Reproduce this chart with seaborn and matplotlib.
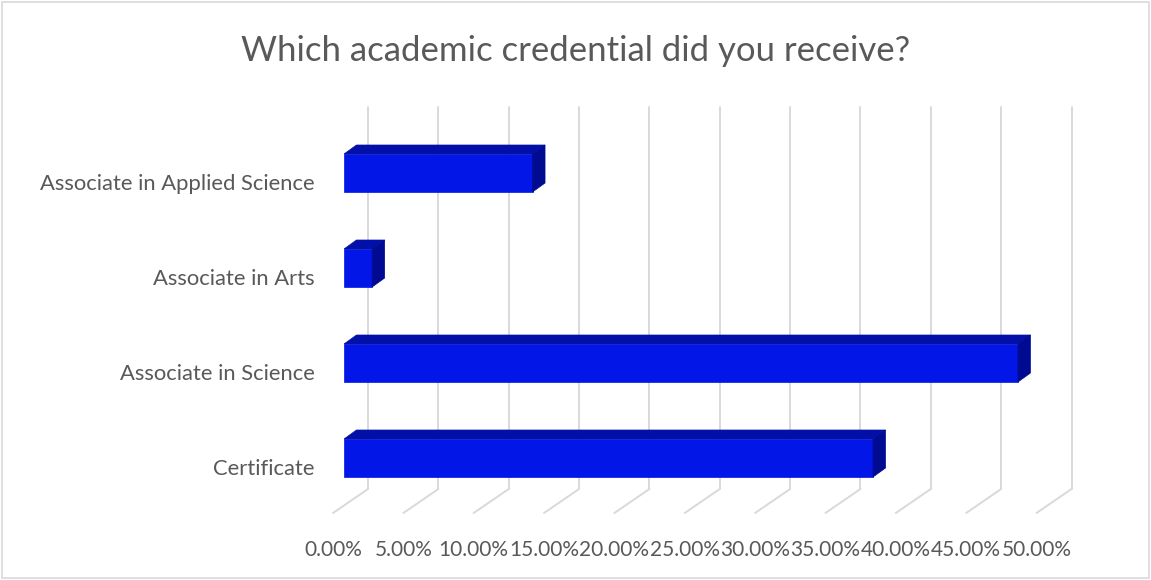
import matplotlib
matplotlib.use('Agg')
import matplotlib.pyplot as plt
import seaborn as sns
import pandas as pd
import numpy as np
from matplotlib.patches import Polygon, Rectangle
from matplotlib.transforms import ScaledTranslation

categories = ["Associate in Applied Science", "Associate in Arts",
              "Associate in Science", "Certificate"]
shares = [13.4, 2.0, 47.9, 37.6]
tick_values = [0, 5, 10, 15, 20, 25, 30, 35, 40, 45, 50]
tick_labels = [f"{v:.2f}%" for v in tick_values]

FRONT = "#0216E8"
TOP = "#0210A8"
SIDE = "#010B92"
GRID = "#D9D9D9"
TEXT = "#595959"

W, H, DPI = 1151, 580, 100

sns.set_theme(style="white")
plt.rcParams['font.family'] = ['Lato', 'DejaVu Sans']

fig = plt.figure(figsize=(W / DPI, H / DPI), dpi=DPI)

# axes placed so the bar front plane matches the reference
left_px, right_px = 344, 1047.5
top_px, bottom_px = 125.5, 505.5
ax = fig.add_axes([left_px / W, 1 - bottom_px / H,
                   (right_px - left_px) / W, (bottom_px - top_px) / H])

df = pd.DataFrame({"credential": categories, "share": shares})
sns.barplot(data=df, x="share", y="credential", orient="h", width=0.4,
            color=FRONT, saturation=1, edgecolor=FRONT, linewidth=0.5,
            ax=ax, zorder=3)
ax.set_xlim(0, 50)
ax.set_ylim(3.5, -0.5)

# pixel -> data scale factors
px_x = 50 / (right_px - left_px)
px_y = 4 / (bottom_px - top_px)

# bar depth (oblique offset)
bdx, bdy = 12.5 * px_x, -9 * px_y
for p in ax.patches:
    x0, y0 = p.get_x(), p.get_y()
    w, h = p.get_width(), p.get_height()
    x1, ytop, ybot = x0 + w, y0, y0 + h
    top = Polygon([(x0, ytop), (x1, ytop), (x1 + bdx, ytop + bdy), (x0 + bdx, ytop + bdy)],
                  closed=True, facecolor=TOP, edgecolor=TOP, lw=0.5, zorder=3)
    side = Polygon([(x1, ytop), (x1 + bdx, ytop + bdy), (x1 + bdx, ybot + bdy), (x1, ybot)],
                   closed=True, facecolor=SIDE, edgecolor=SIDE, lw=0.5, zorder=3)
    ax.add_patch(top)
    ax.add_patch(side)

# back wall and floor gridlines
floor_front = (-11 * px_x, 7.5 * px_y)
back_wall = (24 * px_x, -16.5 * px_y)
wall_top = 3.5 - (505.5 - 107) * px_y
for v in tick_values:
    bx = v + back_wall[0]
    by = 3.5 + back_wall[1]
    ax.plot([bx, bx], [by, wall_top], color=GRID, lw=1.4, zorder=1, clip_on=False)
    ax.plot([v + floor_front[0], bx], [3.5 + floor_front[1], by],
            color=GRID, lw=1.4, zorder=1, clip_on=False)

ax.set_xticks(tick_values)
ax.set_xticklabels(tick_labels)
ax.tick_params(axis='x', length=0, pad=25, labelsize=15, labelcolor=TEXT)
ax.tick_params(axis='y', length=0, pad=21, labelsize=15.8, labelcolor=TEXT)
for lab in ax.get_xticklabels():
    lab.set_transform(lab.get_transform() + ScaledTranslation(-11 / DPI, 0, fig.dpi_scale_trans))
for lab in ax.get_yticklabels():
    lab.set_transform(lab.get_transform() + ScaledTranslation(0, -9 / DPI, fig.dpi_scale_trans))
ax.set_xlabel("")
ax.set_ylabel("")
for s in ax.spines.values():
    s.set_visible(False)
ax.patch.set_alpha(0)

fig.text(0.5, 1 - 51 / H, "Which academic credential did you receive?",
         ha='center', va='center', fontsize=25, color=TEXT)

fig.patches.append(Rectangle((2 / W, 2 / H), 1 - 4 / W, 1 - 4 / H,
                             transform=fig.transFigure, fill=False,
                             edgecolor=GRID, lw=1.2))

fig.savefig("out.png", dpi=DPI)
